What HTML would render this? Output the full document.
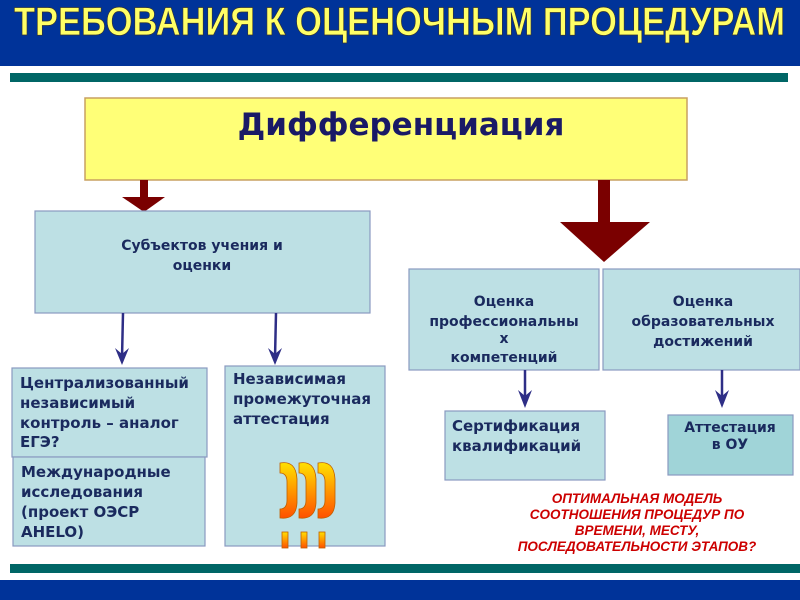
<!DOCTYPE html>
<html><head><meta charset="utf-8"><style>
html,body{margin:0;padding:0;background:#fff;}
svg{display:block;}
.d{font-family:"DejaVu Sans","Liberation Sans",sans-serif;font-weight:bold;}
.l{font-family:"Liberation Sans",sans-serif;font-weight:bold;}
</style></head><body>
<svg width="800" height="600" viewBox="0 0 800 600" xmlns="http://www.w3.org/2000/svg">
<defs>
<linearGradient id="q" x1="0" y1="0" x2="0" y2="1"><stop offset="0" stop-color="#ffe000"/><stop offset="1" stop-color="#ff5000"/></linearGradient>
</defs>
<rect x="0" y="0" width="800" height="66" fill="#003399"/>
<text class="l" x="14" y="35" font-size="40" fill="#ffff66" textLength="771" lengthAdjust="spacingAndGlyphs" stroke="#333" stroke-width="0.7">ТРЕБОВАНИЯ К ОЦЕНОЧНЫМ ПРОЦЕДУРАМ</text>
<rect x="10" y="73" width="778" height="9" fill="#006666"/>
<rect x="10" y="564" width="790" height="9" fill="#006666"/>
<rect x="0" y="580" width="800" height="20" fill="#003399"/>

<rect x="85" y="98" width="602" height="82" fill="#ffff77" stroke="#c8a060" stroke-width="1.5"/>
<text class="d" x="401" y="135" font-size="31" fill="#1a1a66" text-anchor="middle">Дифференциация</text>

<rect x="140" y="180" width="8" height="17" fill="#7a0000"/>
<polygon points="122,197 165,197 144,212" fill="#7a0000"/>
<rect x="598" y="180" width="12" height="42" fill="#7a0000"/>
<polygon points="560,222 650,222 604,262" fill="#7a0000"/>

<g fill="#bde0e4" stroke="#8a9ac0" stroke-width="1.2">
<rect x="35" y="211" width="335" height="102"/>
<rect x="12" y="368" width="195" height="89"/>
<rect x="13" y="457" width="192" height="89"/>
<rect x="225" y="366" width="160" height="180"/>
<rect x="409" y="269" width="190" height="101"/>
<rect x="603" y="269" width="197" height="101"/>
<rect x="445" y="411" width="160" height="69"/>
<rect x="668" y="415" width="125" height="60" fill="#a0d4d8"/>
</g>
<g stroke="#2e2e86" stroke-width="2.5">
<line x1="123" y1="313" x2="122" y2="358"/>
<line x1="276" y1="313" x2="275" y2="358"/>
<line x1="525" y1="370" x2="525" y2="402"/>
<line x1="722" y1="370" x2="722" y2="402"/>
</g>
<g fill="#2e2e86">
<polygon points="115,348 122,365 129,348 122,354"/>
<polygon points="268,348 275,365 282,348 275,354"/>
<polygon points="518,390 525,408 532,390 525,396"/>
<polygon points="715,390 722,408 729,390 722,396"/>
</g>
<g class="d" font-size="14" fill="#1a2a5e" text-anchor="middle">
<text x="202" y="250">Субъектов учения и</text>
<text x="202" y="270">оценки</text>
<text x="504" y="306">Оценка</text>
<text x="504" y="326">профессиональны</text>
<text x="504" y="343">х</text>
<text x="504" y="362">компетенций</text>
<text x="703" y="306">Оценка</text>
<text x="703" y="326">образовательных</text>
<text x="703" y="346">достижений</text>
<text x="730" y="432">Аттестация</text>
<text x="730" y="449">в ОУ</text>
</g>
<g class="d" font-size="15" fill="#1a2a5e">
<text x="20" y="388">Централизованный</text>
<text x="20" y="408">независимый</text>
<text x="20" y="428">контроль – аналог</text>
<text x="20" y="447">ЕГЭ?</text>
<text x="21" y="477">Международные</text>
<text x="21" y="497">исследования</text>
<text x="21" y="517">(проект ОЭСР</text>
<text x="21" y="537">AHELO)</text>
<text x="233" y="384">Независимая</text>
<text x="233" y="404">промежуточная</text>
<text x="233" y="424">аттестация</text>
<text x="452" y="431">Сертификация</text>
<text x="452" y="451">квалификаций</text>
</g>
<g fill="url(#q)" stroke="#c06000" stroke-width="0.8">
<path d="M280,463 q16,-3 17,16 v24 q-1,17 -17,15 v-9 q7,0 7,-9 v-18 q0,-9 -7,-9 z"/>
<path d="M299,463 q16,-3 17,16 v24 q-1,17 -17,15 v-9 q7,0 7,-9 v-18 q0,-9 -7,-9 z"/>
<path d="M318,463 q16,-3 17,16 v24 q-1,17 -17,15 v-9 q7,0 7,-9 v-18 q0,-9 -7,-9 z"/>
<rect x="282" y="532" width="6" height="16"/>
<rect x="301" y="532" width="6" height="16"/>
<rect x="319" y="532" width="6" height="16"/>
</g>
<g class="l" font-size="13.5" fill="#cc0000" text-anchor="middle" font-style="italic">
<text x="637" y="503">ОПТИМАЛЬНАЯ МОДЕЛЬ</text>
<text x="637" y="519">СООТНОШЕНИЯ ПРОЦЕДУР ПО</text>
<text x="637" y="535">ВРЕМЕНИ, МЕСТУ,</text>
<text x="637" y="551">ПОСЛЕДОВАТЕЛЬНОСТИ ЭТАПОВ?</text>
</g>
</svg>
</body></html>
